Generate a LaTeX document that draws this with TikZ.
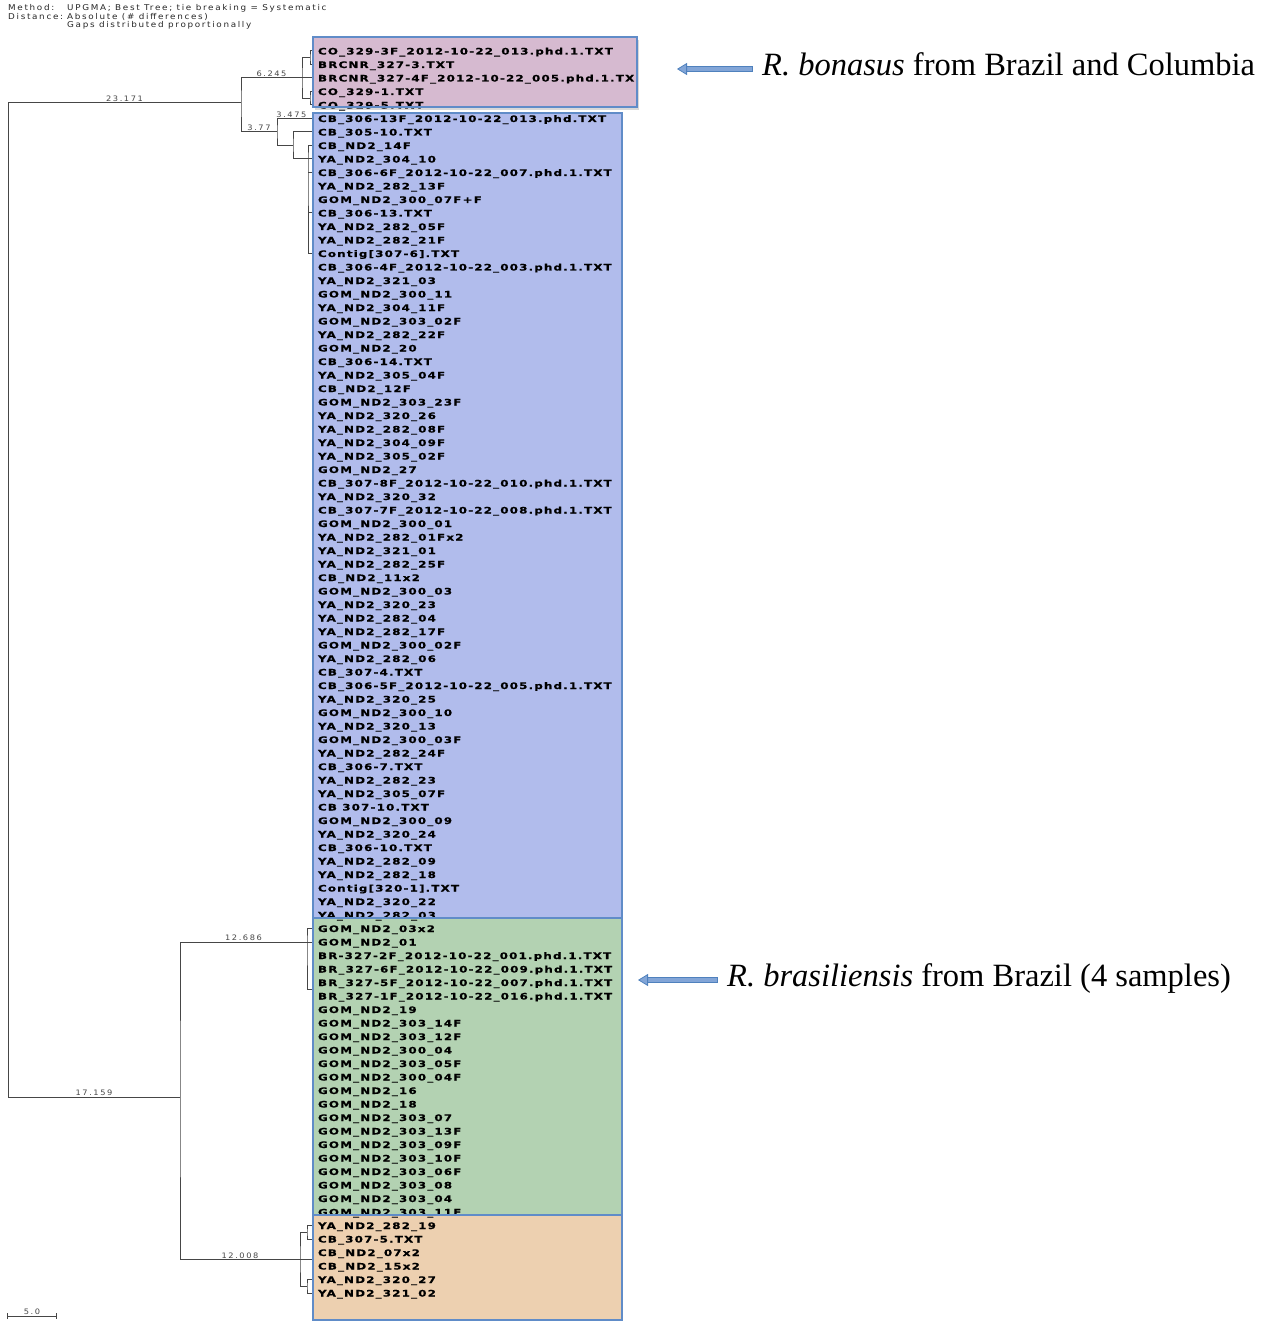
\documentclass[tikz,border=0pt]{standalone}
\usepackage{fontspec}
\setmainfont{Liberation Serif}
\newfontfamily\taxonfont[LetterSpace=13, FakeStretch=1.32, FakeBold=0.6]{DejaVu Sans}
\newfontfamily\smallfont[LetterSpace=21, FakeStretch=1.1]{DejaVu Sans}
\usetikzlibrary{arrows.meta, shadows}
\definecolor{pinkbox}{RGB}{214,186,208}
\definecolor{bluebox}{RGB}{177,188,236}
\definecolor{greenbox}{RGB}{179,210,178}
\definecolor{orangebox}{RGB}{237,208,176}
\definecolor{boxedge}{RGB}{96,140,200}
\definecolor{arrowfill}{RGB}{130,165,215}
\definecolor{arrowedge}{RGB}{79,129,189}
\definecolor{treegray}{RGB}{70,70,70}

\begin{document}
\catcode`\_=12
\begin{tikzpicture}[x=1pt, y=-1pt]
    % Define styles for taxa, branches and labels
    \tikzstyle{taxon}=[anchor=west, inner sep=0pt, outer xsep=5pt, text height=7pt, text depth=0pt, font=\taxonfont\bfseries\fontsize{9}{9}\selectfont]
    \tikzstyle{branch}=[draw=treegray, line width=1pt]
    \tikzstyle{blen}=[above, inner sep=0.6pt, text=treegray, font=\smallfont\fontsize{7.5}{8}\selectfont]
    \tikzstyle{header}=[anchor=west, inner sep=0pt, text=black!85, font=\smallfont\fontsize{8}{8}\selectfont]
    \tikzstyle{note}=[anchor=base west, inner sep=0pt, font=\fontsize{32.5}{34}\selectfont]
    \tikzstyle{pointer}=[line width=4pt, draw=arrowfill, shorten <=10pt,
        -{Triangle[length=10pt, width=12pt, fill=arrowfill, color=arrowedge, line width=0.8pt]},
        preaction={draw=arrowedge, line width=5.6pt, shorten <=9.3pt, shorten >=9pt, -}]

    \useasboundingbox (0,0) rectangle (1272,1321);

    % Header
    \node[header] (method) at (8,8) {Method:};
    \node[header] (method-val) at (67,8) {UPGMA; Best Tree; tie breaking = Systematic};
    \node[header] (distance) at (8,16.5) {Distance:};
    \node[header] (distance-val) at (67,16.5) {Absolute (\# differences)};
    \node[header] (gaps) at (67,25) {Gaps distributed proportionally};

    % Coloured groups
    \fill[pinkbox, drop shadow={opacity=0.3, shadow xshift=2pt, shadow yshift=-3pt}] (312.5,37) rectangle (637,107);
    \fill[bluebox] (313,113) rectangle (621.5,918);
    \fill[greenbox] (313,918) rectangle (621.5,1215);
    \fill[orangebox] (313,1215) rectangle (621.5,1321);

    % Taxa
    \foreach \taxon [count=\i from 0] in {
        CO_329-3F_2012-10-22_013.phd.1.TXT, BRCNR_327-3.TXT,
        BRCNR_327-4F_2012-10-22_005.phd.1.TX, CO_329-1.TXT, CO_329-5.TXT,
        CB_306-13F_2012-10-22_013.phd.TXT, CB_305-10.TXT, CB_ND2_14F, YA_ND2_304_10,
        CB_306-6F_2012-10-22_007.phd.1.TXT, YA_ND2_282_13F, GOM_ND2_300_07F+F,
        CB_306-13.TXT, YA_ND2_282_05F, YA_ND2_282_21F, Contig[307-6].TXT,
        CB_306-4F_2012-10-22_003.phd.1.TXT, YA_ND2_321_03, GOM_ND2_300_11,
        YA_ND2_304_11F, GOM_ND2_303_02F, YA_ND2_282_22F, GOM_ND2_20, CB_306-14.TXT,
        YA_ND2_305_04F, CB_ND2_12F, GOM_ND2_303_23F, YA_ND2_320_26, YA_ND2_282_08F,
        YA_ND2_304_09F, YA_ND2_305_02F, GOM_ND2_27,
        CB_307-8F_2012-10-22_010.phd.1.TXT, YA_ND2_320_32,
        CB_307-7F_2012-10-22_008.phd.1.TXT, GOM_ND2_300_01, YA_ND2_282_01Fx2,
        YA_ND2_321_01, YA_ND2_282_25F, CB_ND2_11x2, GOM_ND2_300_03, YA_ND2_320_23,
        YA_ND2_282_04, YA_ND2_282_17F, GOM_ND2_300_02F, YA_ND2_282_06, CB_307-4.TXT,
        CB_306-5F_2012-10-22_005.phd.1.TXT, YA_ND2_320_25, GOM_ND2_300_10,
        YA_ND2_320_13, GOM_ND2_300_03F, YA_ND2_282_24F, CB_306-7.TXT, YA_ND2_282_23,
        YA_ND2_305_07F, CB 307-10.TXT, GOM_ND2_300_09, YA_ND2_320_24, CB_306-10.TXT,
        YA_ND2_282_09, YA_ND2_282_18, Contig[320-1].TXT, YA_ND2_320_22, YA_ND2_282_03,
        GOM_ND2_03x2, GOM_ND2_01, BR-327-2F_2012-10-22_001.phd.1.TXT,
        BR_327-6F_2012-10-22_009.phd.1.TXT, BR_327-5F_2012-10-22_007.phd.1.TXT,
        BR_327-1F_2012-10-22_016.phd.1.TXT, GOM_ND2_19, GOM_ND2_303_14F,
        GOM_ND2_303_12F, GOM_ND2_300_04, GOM_ND2_303_05F, GOM_ND2_300_04F, GOM_ND2_16,
        GOM_ND2_18, GOM_ND2_303_07, GOM_ND2_303_13F, GOM_ND2_303_09F, GOM_ND2_303_10F,
        GOM_ND2_303_06F, GOM_ND2_303_08, GOM_ND2_303_04, GOM_ND2_303_11F,
        YA_ND2_282_19, CB_307-5.TXT, CB_ND2_07x2, CB_ND2_15x2, YA_ND2_320_27,
        YA_ND2_321_02} {
        \node[taxon] (T-\i) at (313,{51+13.5*\i}) {\taxon};
    }

    % Junctions of the tree
    \coordinate (J-root) at (8,103);
    \coordinate (J-upper) at (241,103);
    \coordinate (J-bon) at (302,78);
    \coordinate (J-bon1) at (310,57.75);
    \coordinate (J-bon2) at (310,98.25);
    \coordinate (J-blue) at (277,131.75);
    \coordinate (J-blue2) at (293,145.5);
    \coordinate (J-blue3) at (308,159);
    \coordinate (J-blue4) at (312,213);
    \coordinate (J-lower) at (180,1097);
    \coordinate (J-green) at (307,942);
    \coordinate (J-green2) at (312,989);
    \coordinate (J-orange) at (300,1259.25);
    \coordinate (J-orange1) at (307,1232.25);
    \coordinate (J-orange2) at (307,1286.25);
    \coordinate (J-orange3) at (312,1259.25);

    % Root and upper clade
    \draw[branch] (J-upper) -| node[blen, pos=0.25] {23.171} (J-root) |- node[blen, pos=0.75] {17.159} (J-lower);
    \draw[branch] (J-bon) -| node[blen, pos=0.25] {6.245} (J-upper) |- node[blen, pos=0.75] {3.77} (J-blue);
    \draw[branch] (J-bon1) -| (J-bon) |- (J-bon2);
    \draw[branch] (J-bon) -- (T-2.west);
    \draw[branch] (T-0.west) -| (J-bon1) |- (T-1.west);
    \draw[branch] (T-3.west) -| (J-bon2) |- (T-4.west);

    % Blue clade
    \draw[branch] (T-5.west) -| node[blen, pos=0.3] {3.475} (J-blue) |- (J-blue2);
    \draw[branch] (T-6.west) -| (J-blue2) |- (J-blue3);
    \draw[branch] (T-7.west) -| (J-blue3) |- (T-15.west);
    \draw[branch] (J-blue3) -- (T-8.west);
    \draw[branch] (J-blue3 |- T-9.west) -- (T-9.west);
    \draw[branch] (J-blue3 |- J-blue4) -- (J-blue4);
    \draw[branch] (T-10.west) -| (J-blue4) |- (T-14.west);
    \foreach \i in {11,12,13} {
        \draw[branch] (J-blue4 |- T-\i.west) -- (T-\i.west);
    }

    % Lower clades
    \draw[branch] (J-green) -| node[blen, pos=0.25] {12.686} (J-lower) |- node[blen, pos=0.75] {12.008} (J-orange);
    \draw[branch] (T-65.west) -| (J-green) |- (J-green2);
    \draw[branch] (J-green) -- (T-66.west);
    \draw[branch] (T-67.west) -| (J-green2) |- (T-70.west);
    \foreach \i in {68,69} {
        \draw[branch] (J-green2 |- T-\i.west) -- (T-\i.west);
    }
    \draw[branch] (J-orange1) -| (J-orange) |- (J-orange2);
    \draw[branch] (J-orange) -- (J-orange3);
    \draw[branch] (T-87.west) -| (J-orange1) |- (T-88.west);
    \draw[branch] (T-89.west) -| (J-orange3) |- (T-90.west);
    \draw[branch] (T-91.west) -| (J-orange2) |- (T-92.west);

    % Group borders
    \draw[boxedge, line width=2pt] (312.5,37) rectangle (637,107);
    \draw[boxedge, line width=2pt] (313,113) rectangle (621.5,918);
    \draw[boxedge, line width=2pt] (313,918) rectangle (621.5,1215);
    \draw[boxedge, line width=2pt] (313,1215) rectangle (621.5,1320);

    % Scale bar
    \coordinate (S-0) at (7,1316);
    \coordinate (S-1) at (57,1316);
    \draw[branch, {Bar[width=6pt]}-{Bar[width=6pt]}] (S-0) -- node[blen] {5.0} (S-1);

    % Annotations
    \node[note] (bonasus) at (762,76) {\textit{R. bonasus} from Brazil and Columbia};
    \coordinate (bonasus-tip) at (677,69);
    \draw[pointer] (bonasus.west |- bonasus-tip) -- (bonasus-tip);
    \node[note] (brasiliensis) at (727,986) {\textit{R. brasiliensis} from Brazil (4 samples)};
    \coordinate (brasiliensis-tip) at (638,980);
    \draw[pointer] (brasiliensis.west |- brasiliensis-tip) -- (brasiliensis-tip);

\end{tikzpicture}
\end{document}
